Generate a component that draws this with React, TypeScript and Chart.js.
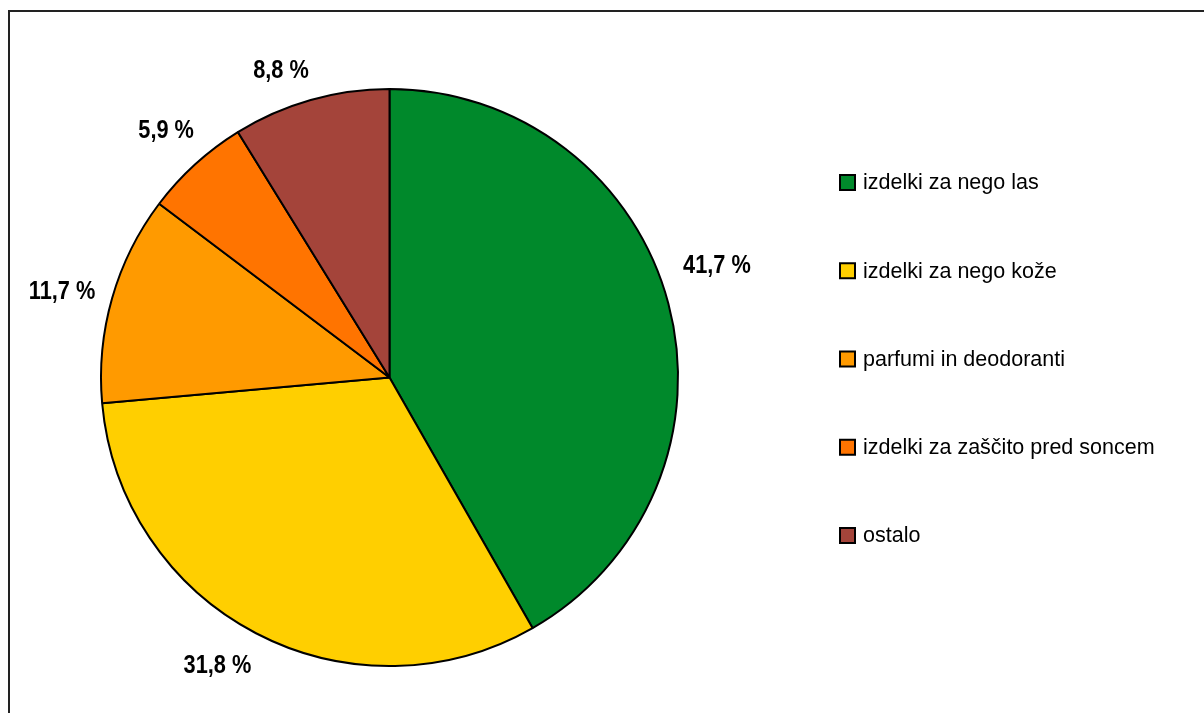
import React, { useEffect, useRef } from "react";
import { Chart, registerables } from "chart.js";

Chart.register(...registerables);

const categories: string[] = [
  "izdelki za nego las",
  "izdelki za nego kože",
  "parfumi in deodoranti",
  "izdelki za zaščito pred soncem",
  "ostalo",
];
const shares: number[] = [41.7, 31.8, 11.7, 5.9, 8.8];
const valueLabels: string[] = ["41,7 %", "31,8 %", "11,7 %", "5,9 %", "8,8 %"];
const sliceColors: string[] = ["#00892B", "#FFCF00", "#FF9A00", "#FF7400", "#A4443A"];

// label placement (polar, degrees clockwise from top, radius multiple)
const LABEL_ANGLE = [70.9, 211.0, 285.0, 318.0, 340.6];
const LABEL_DIST = [1.201, 1.158, 1.175, 1.157, 1.132];

const LABEL_FONT = "bold 25px 'Liberation Sans Narrow', 'Arial Narrow', 'Liberation Sans', sans-serif";
const LEGEND_FONT = "21.5px 'Liberation Sans', Arial, sans-serif";

const framePlugin = {
  id: "frame",
  beforeDraw(chart: any) {
    const ctx = chart.ctx;
    ctx.save();
    ctx.fillStyle = "#ffffff";
    ctx.fillRect(0, 0, chart.width, chart.height);
    ctx.strokeStyle = "#222222";
    ctx.lineWidth = 2;
    ctx.strokeRect(9, 11, chart.width + 20, chart.height + 20);
    ctx.restore();
  },
};

const labelPlugin = {
  id: "sliceLabels",
  afterDraw(chart: any) {
    const ctx = chart.ctx;
    const meta = chart.getDatasetMeta(0);
    meta.data.forEach((arc: any, i: number) => {
      const a = (LABEL_ANGLE[i] * Math.PI) / 180;
      const r = arc.outerRadius * LABEL_DIST[i];
      const x = arc.x + r * Math.sin(a);
      const y = arc.y - r * Math.cos(a);
      ctx.save();
      ctx.font = LABEL_FONT;
      ctx.fillStyle = "#000000";
      ctx.textAlign = "center";
      ctx.textBaseline = "alphabetic";
      ctx.translate(x, y + 25 * 0.36);
      ctx.scale(0.87, 1);
      ctx.fillText(valueLabels[i], 0, 0);
      ctx.restore();
    });
  },
};

const legendPlugin = {
  id: "sideLegend",
  afterDraw(chart: any) {
    const ctx = chart.ctx;
    const labels: string[] = chart.data.labels;
    const colors: string[] = chart.data.datasets[0].backgroundColor;
    const x0 = 840;
    const y0 = 182.5;
    const step = 88.25;
    const box = 15;
    ctx.save();
    ctx.font = LEGEND_FONT;
    ctx.textAlign = "left";
    ctx.textBaseline = "middle";
    labels.forEach((lab, i) => {
      const cy = y0 + i * step;
      ctx.fillStyle = colors[i];
      ctx.fillRect(x0, cy - box / 2, box, box);
      ctx.strokeStyle = "#000000";
      ctx.lineWidth = 2;
      ctx.strokeRect(x0, cy - box / 2, box, box);
      ctx.fillStyle = "#000000";
      ctx.fillText(lab, 863, cy + 1);
    });
    ctx.restore();
  },
};

export default function App() {
  const canvasRef = useRef<HTMLCanvasElement | null>(null);

  useEffect(() => {
    if (!canvasRef.current) return;
    const chart = new Chart(canvasRef.current, {
      type: "pie",
      data: {
        labels: categories,
        datasets: [
          {
            data: shares,
            backgroundColor: sliceColors,
            borderColor: "#000000",
            borderWidth: 2,
          },
        ],
      },
      options: {
        responsive: false,
        animation: false,
        layout: { padding: { left: 100, right: 525, top: 88, bottom: 46 } },
        plugins: {
          legend: { display: false },
          tooltip: { enabled: false },
        },
      },
      plugins: [framePlugin, labelPlugin, legendPlugin],
    });
    return () => chart.destroy();
  }, []);

  return (
    <div style={{ position: "absolute", left: 0, top: 0, width: 1204, height: 713 }}>
      <canvas ref={canvasRef} width={1204} height={713} style={{ display: "block" }} />
    </div>
  );
}
